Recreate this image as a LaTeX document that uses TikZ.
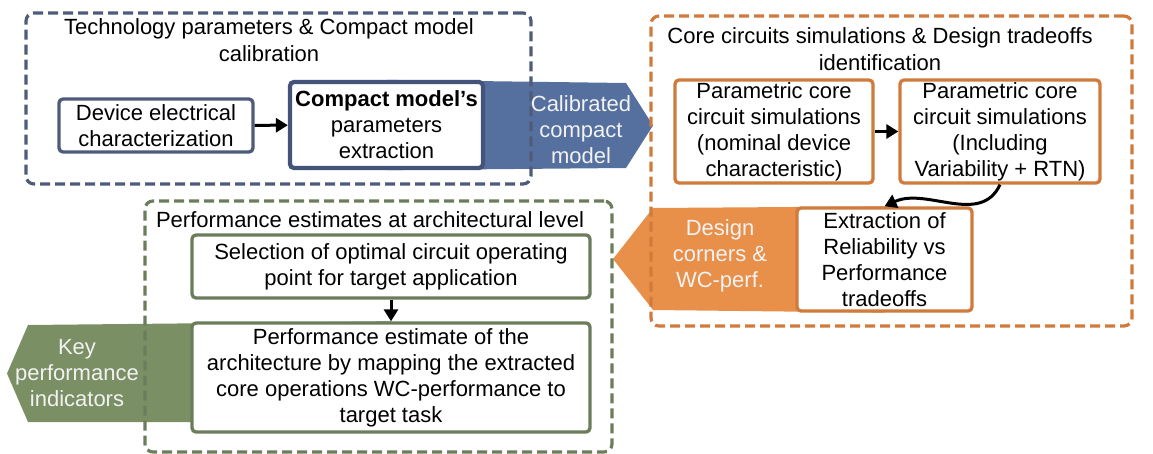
\documentclass[tikz,border=0pt]{standalone}
\usepackage{fontspec}
\setmainfont{Liberation Sans}
\usetikzlibrary{arrows.meta,backgrounds}

\definecolor{techline}{HTML}{4F5B7A}
\definecolor{techbox}{HTML}{44537A}
\definecolor{techfill}{HTML}{55709E}
\definecolor{coreline}{HTML}{D07A3C}
\definecolor{corefill}{HTML}{E8904A}
\definecolor{perfline}{HTML}{6B7D5B}
\definecolor{perffill}{HTML}{7B8F65}

\begin{document}
\begin{tikzpicture}[x=1pt,y=1pt,font=\fontsize{22}{26}\selectfont]
    \tikzset{GroupStyle/.style = {draw=#1, line width=3.2pt,
        dash pattern=on 10pt off 5pt, rounded corners=8pt},
      BoxStyle/.style = {draw=#1, fill=white, line width=3.3pt,
        rounded corners=4pt, align=center, inner sep=2pt},
      TitleStyle/.style = {align=center, font=\fontsize{22}{27}\selectfont},
      BlockText/.style = {align=center, text=white!95!black},
      EdgeStyle/.style = {-{Triangle[length=12pt,width=14pt]}, line width=3pt}}
    \useasboundingbox (0,0) rectangle (1153,-454);
    % groups
    \node[GroupStyle=techline, minimum width=505, minimum height=171] (techgrp) at (278.5,-98.5) {};
    \node[GroupStyle=coreline, minimum width=481, minimum height=310] (coregrp) at (891.5,-171) {};
    \node[GroupStyle=perfline, minimum width=467, minimum height=251] (perfgrp) at (378.5,-326.5) {};
    \node[TitleStyle] (techtitle) at (269,-40) {Technology parameters \& Compact model\\calibration};
    \node[TitleStyle] (coretitle) at (880,-49) {Core circuits simulations \& Design tradeoffs\\identification};
    \node[TitleStyle] (perftitle) at (370,-220) {Performance estimates at architectural level};
    % boxes
    \node[BoxStyle=techline, minimum width=194, minimum height=53] (dev) at (156,-125.5) {Device electrical\\characterization};
    \node[BoxStyle=techbox, line width=4.3pt, minimum width=193, minimum height=86] (cmp) at (386.5,-125) {\textbf{Compact model's}\\parameters\\extraction};
    \node[BoxStyle=coreline, minimum width=198, minimum height=103] (p1) at (774,-131.5) {Parametric core\\circuit simulations\\(nominal device\\characteristic)};
    \node[BoxStyle=coreline, minimum width=200, minimum height=103] (p2) at (1000,-131.5) {Parametric core\\circuit simulations\\(Including\\Variability + RTN)};
    \node[BoxStyle=coreline, minimum width=175, minimum height=103] (extr) at (884.5,-259.5) {Extraction of\\Reliability vs\\Performance\\tradeoffs};
    \node[BoxStyle=perfline, minimum width=398, minimum height=63] (sel) at (391,-266.5) {Selection of optimal circuit operating\\point for target application};
    \node[BoxStyle=perfline, minimum width=398, minimum height=109] (perf) at (391,-377.5) {Performance estimate of the\\architecture by mapping the extracted\\core operations WC-performance to\\target task};
    % block arrows
    \node[BlockText] (calib) at (581,-130) {Calibrated\\compact\\model};
    \node[BlockText] (corners) at (720,-256) {Design\\corners \&\\WC-perf.};
    \node[BlockText] (kpi) at (77,-373) {Key\\performance\\indicators};
    \coordinate (kpibase) at (28,-422);
    \begin{pgfonlayer}{background}
      \fill[techfill] (cmp.north) -- (626,-83) -- (653,-125.5) -- (626,-168) -- (cmp.south) -- cycle;
      \fill[corefill] (extr.north) -- (653,-208) -- (613,-259) -- (653,-310) -- (extr.south) -- cycle;
      \fill[perffill] (perf.north) -- (28,-325) -- (7,-373.5) -- (kpibase) -- (perf.center |- kpibase) -- cycle;
    \end{pgfonlayer}
    % connectors
    \draw[EdgeStyle] (dev) -- (cmp);
    \draw[EdgeStyle] (p1) -- (p2);
    \draw[EdgeStyle] (p2.south) to[out=-115,in=25] (extr.north);
    \draw[EdgeStyle] (sel) -- (perf);
\end{tikzpicture}
\end{document}
